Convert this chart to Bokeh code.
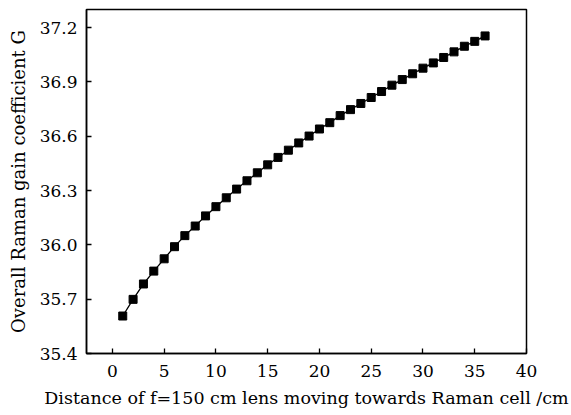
from bokeh.plotting import figure
from bokeh.models import FixedTicker, ColumnDataSource, Range1d, PrintfTickFormatter
from bokeh.embed import file_html
from bokeh.resources import INLINE

# data
distance_cm = [1, 2, 3, 4, 5, 6, 7, 8, 9, 10, 11, 12, 13, 14, 15, 16, 17, 18,
               19, 20, 21, 22, 23, 24, 25, 26, 27, 28, 29, 30, 31, 32, 33, 34, 35, 36]
gain_G = [35.607, 35.699, 35.784, 35.855, 35.923, 35.990, 36.051, 36.104, 36.160,
          36.211, 36.260, 36.308, 36.354, 36.398, 36.442, 36.483, 36.523, 36.563,
          36.601, 36.640, 36.675, 36.714, 36.747, 36.781, 36.814, 36.847, 36.882,
          36.913, 36.945, 36.976, 37.005, 37.035, 37.066, 37.097, 37.124, 37.154]
x_ticks = [0, 5, 10, 15, 20, 25, 30, 35, 40]
y_ticks = [35.4, 35.7, 36.0, 36.3, 36.6, 36.9, 37.2]
x_title = "Distance of f=150 cm lens moving towards Raman cell /cm"
y_title = "Overall Raman gain coefficient G"

FONT = "DejaVu Serif"

p = figure(width=571, height=415, output_backend="svg", toolbar_location=None,
           min_border_left=86, min_border_right=45, min_border_top=9, min_border_bottom=62)
p.x_range = Range1d(-2.5, 40)
p.y_range = Range1d(35.4, 37.3)
p.background_fill_color = "white"
p.border_fill_color = "white"
p.grid.visible = False
p.outline_line_color = "black"
p.outline_line_width = 1.5

src = ColumnDataSource(dict(x=distance_cm, y=gain_G))
p.line("x", "y", source=src, line_color="black", line_width=1.3)
p.scatter("x", "y", source=src, marker="square", size=8, fill_color="black", line_color="black")

for ax, ticks in ((p.xaxis[0], x_ticks), (p.yaxis[0], y_ticks)):
    ax.ticker = FixedTicker(ticks=ticks)
    ax.minor_tick_line_color = None
    ax.major_tick_in = 5
    ax.major_tick_out = 0
    ax.major_tick_line_color = "black"
    ax.major_tick_line_width = 1.3
    ax.axis_line_color = "black"
    ax.axis_line_width = 1.5
    ax.major_label_text_font = FONT
    ax.major_label_text_font_size = "17px"
    ax.major_label_text_color = "black"
    ax.axis_label_text_font = FONT
    ax.axis_label_text_font_style = "normal"
    ax.axis_label_text_color = "black"

p.yaxis[0].formatter = PrintfTickFormatter(format="%.1f")
p.xaxis[0].formatter = PrintfTickFormatter(format="%d")
p.xaxis[0].major_label_standoff = 11
p.yaxis[0].major_label_standoff = 9
p.xaxis[0].axis_label = x_title
p.yaxis[0].axis_label = y_title
p.xaxis[0].axis_label_text_font_size = "17.5px"
p.yaxis[0].axis_label_text_font_size = "18px"
p.xaxis[0].axis_label_standoff = 8
p.yaxis[0].axis_label_standoff = 8

open("out.html", "w").write(file_html(p, INLINE))
